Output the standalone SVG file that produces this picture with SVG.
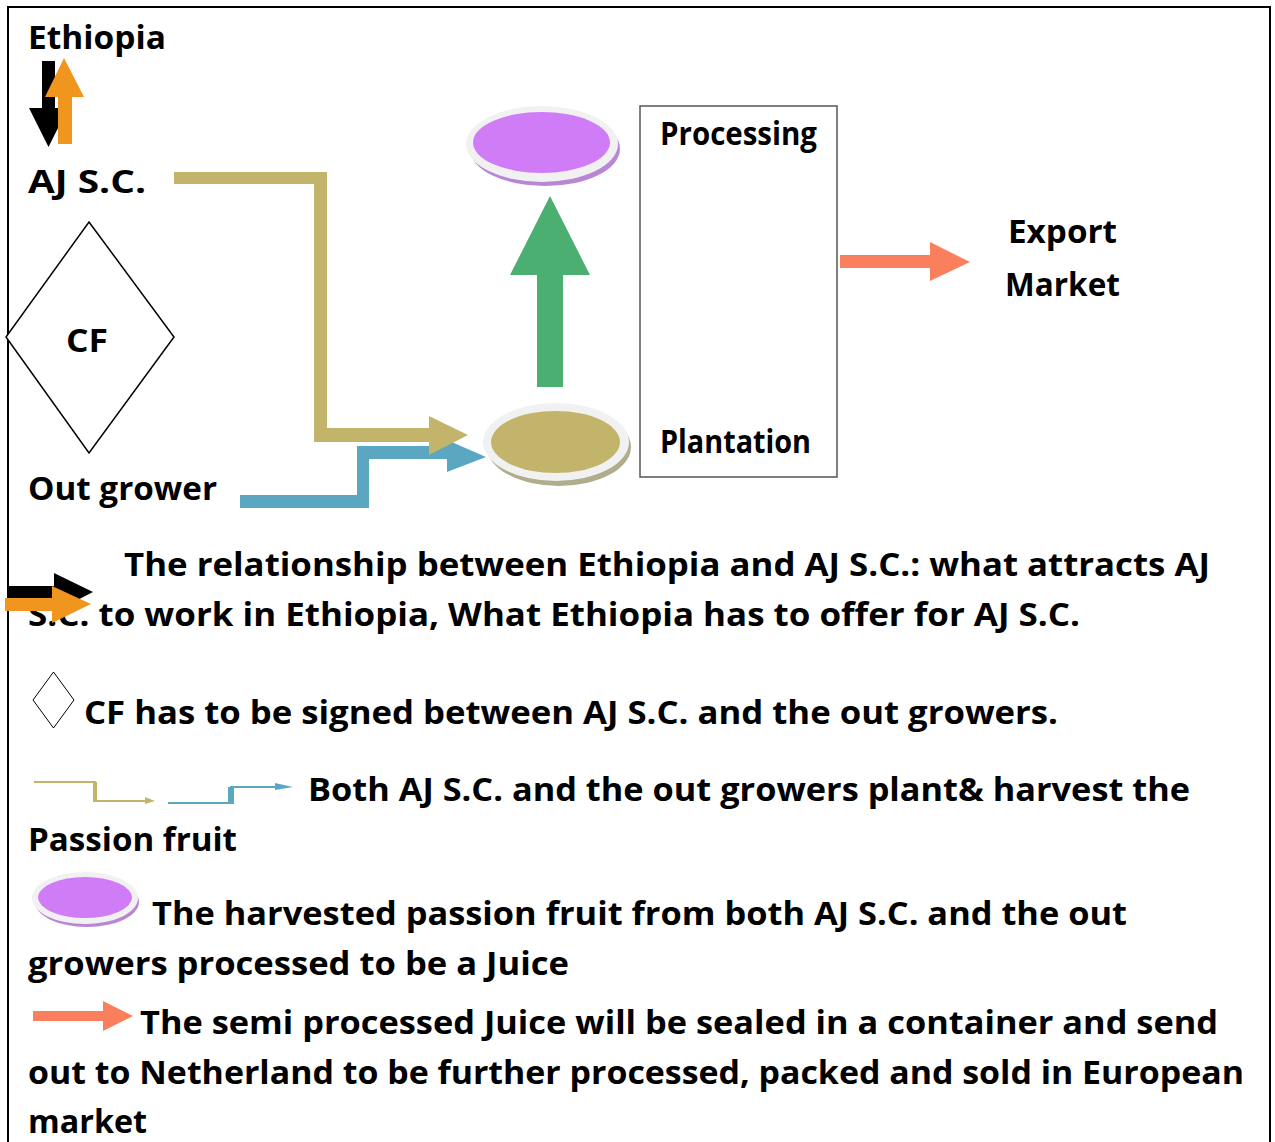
<svg xmlns="http://www.w3.org/2000/svg" width="1275" height="1142" viewBox="0 0 1275 1142">
<style>
.t{font-family:"Open Sans","DejaVu Sans",sans-serif;font-weight:bold;font-size:32px;fill:#000}
.tan{fill:#C2B56B}
.blue{fill:#5BA7C1}
.sal{fill:#FA7F5D}
.org{fill:#F0961E}
</style>
<rect width="1275" height="1142" fill="#fff"/>
<rect x="8" y="7" width="1262" height="1150" fill="none" stroke="#000" stroke-width="2"/>

<g id="connectors">
  <polygon points="42,61 55,61 55,108 68,108 48.5,147 29,108 42,108" fill="#000"/>
  <polygon class="org" points="58,144 72,144 72,97 84,97 64,58 45,97 58,97"/>
  <polygon class="blue" points="240,495 357,495 357,446 447,446 447,440 486,457 447,472 447,459 369,459 369,508 240,508"/>
  <polygon class="tan" points="174,172 327,172 327,428 429,428 429,416 468,435 429,455 429,442 314,442 314,184 174,184"/>
  <polygon points="537,387 563,387 563,275 590,275 550,196 510,275 537,275" fill="#4CAF72"/>
  <polygon class="sal" points="840,255 930,255 930,242 970,262 930,281 930,268 840,268"/>
</g>

<g id="node-ethiopia"><text class="t" x="28" y="49" textLength="138" lengthAdjust="spacingAndGlyphs">Ethiopia</text></g>
<g id="node-aj"><text class="t" x="28" y="193" textLength="118" lengthAdjust="spacingAndGlyphs">AJ S.C.</text></g>
<g id="node-cf">
  <polygon points="89,222 174,337 89,453 6,337" fill="#fff" stroke="#000" stroke-width="1.5"/>
  <text class="t" x="66" y="352" textLength="42" lengthAdjust="spacingAndGlyphs">CF</text>
</g>
<g id="node-outgrower"><text class="t" x="28" y="500" textLength="189" lengthAdjust="spacingAndGlyphs">Out grower</text></g>

<g id="node-processing-ellipse">
  <ellipse cx="545" cy="149" rx="75" ry="37" fill="#B985D6"/>
  <ellipse cx="542" cy="144" rx="76" ry="38" fill="#F1F1F1"/>
  <ellipse cx="541.5" cy="142.5" rx="68.5" ry="30.5" fill="#D17CF7"/>
</g>
<g id="node-plantation-ellipse">
  <ellipse cx="559" cy="447" rx="72" ry="39" fill="#B0AC8C"/>
  <ellipse cx="556" cy="442" rx="73" ry="39" fill="#F1F1F1"/>
  <ellipse cx="555.5" cy="442" rx="64.5" ry="31" class="tan"/>
</g>

<g id="node-stage-box">
  <rect x="640" y="106" width="197" height="371" fill="none" stroke="#555" stroke-width="1.5"/>
  <text class="t" x="660" y="145" textLength="157" lengthAdjust="spacingAndGlyphs">Processing</text>
  <text class="t" x="660" y="453" textLength="151" lengthAdjust="spacingAndGlyphs">Plantation</text>
</g>

<g id="node-export">
  <text class="t" x="1008" y="243" textLength="109" lengthAdjust="spacingAndGlyphs">Export</text>
  <text class="t" x="1005" y="296" textLength="115" lengthAdjust="spacingAndGlyphs">Market</text>
</g>

<g id="legend">
  <text class="t" x="124" y="576" textLength="1086" lengthAdjust="spacingAndGlyphs">The relationship between Ethiopia and AJ S.C.: what attracts AJ</text>
  <text class="t" x="28" y="626" textLength="1052" lengthAdjust="spacingAndGlyphs">S.C. to work in Ethiopia, What Ethiopia has to offer for AJ S.C.</text>
  <polygon points="8,586 54,586 54,573 93,592 54,612 54,598 8,598" fill="#000"/>
  <polygon class="org" points="5,598 52,598 52,586 91,604 52,623 52,611 5,611"/>

  <polygon points="53.5,672 74,700 53.5,728 33,700" fill="#fff" stroke="#000" stroke-width="1"/>
  <text class="t" x="84" y="724" textLength="974" lengthAdjust="spacingAndGlyphs">CF has to be signed between AJ S.C. and the out growers.</text>

  <polyline points="34,782 95,782 95,801 147,801" fill="none" stroke="#C2B56B" stroke-width="2"/>
  <rect x="93" y="782" width="4" height="20" class="tan"/>
  <polygon class="tan" points="145,797 155,801 145,804"/>
  <polyline points="168,803 231,803 231,787 283,787" fill="none" stroke="#5BA7C1" stroke-width="2"/>
  <rect x="228" y="787" width="6" height="17" class="blue"/>
  <polygon class="blue" points="275,783 293,787 275,790"/>
  <text class="t" x="308" y="801" textLength="882" lengthAdjust="spacingAndGlyphs">Both AJ S.C. and the out growers plant&amp; harvest the</text>
  <text class="t" x="28" y="851" textLength="209" lengthAdjust="spacingAndGlyphs">Passion fruit</text>

  <ellipse cx="87" cy="902" rx="52" ry="25" fill="#B985D6"/>
  <ellipse cx="85" cy="898" rx="53" ry="26" fill="#F1F1F1"/>
  <ellipse cx="85" cy="897.5" rx="47" ry="20.5" fill="#D17CF7"/>
  <text class="t" x="152" y="925" textLength="975" lengthAdjust="spacingAndGlyphs">The harvested passion fruit from both AJ S.C. and the out</text>
  <text class="t" x="28" y="975" textLength="541" lengthAdjust="spacingAndGlyphs">growers processed to be a Juice</text>

  <polygon class="sal" points="33,1011 103,1011 103,1001 133,1016 103,1031 103,1021 33,1021"/>
  <text class="t" x="140" y="1034" textLength="1078" lengthAdjust="spacingAndGlyphs">The semi processed Juice will be sealed in a container and send</text>
  <text class="t" x="28" y="1084" textLength="1216" lengthAdjust="spacingAndGlyphs">out to Netherland to be further processed, packed and sold in European</text>
  <text class="t" x="28" y="1133" textLength="119" lengthAdjust="spacingAndGlyphs">market</text>
</g>
</svg>
